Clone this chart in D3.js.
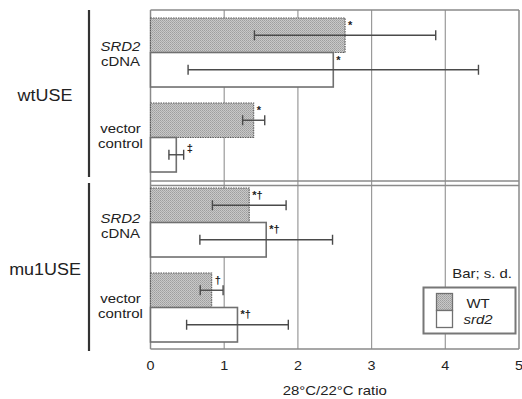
<!DOCTYPE html>
<html>
<head>
<meta charset="utf-8">
<script src="https://cdn.jsdelivr.net/npm/d3@7"></script>
<style>
  body { margin: 0; background: #fff; }
  text { font-family: "Liberation Sans", Arial, sans-serif; fill: #222; }
</style>
</head>
<body>
<div id="graph-area"></div>
<script>
// values (28C/22C ratio, mean and s.d.)
var groups = ["wtUSE", "mu1USE"];
var constructs = [["SRD2", "cDNA"], ["vector", "control"]];
var lines = ["WT", "srd2"];
var wtValues = [2.64, 1.40, 1.34, 0.83];
var wtErrors = [1.23, 0.15, 0.50, 0.155];
var srd2Values = [2.48, 0.35, 1.57, 1.18];
var srd2Errors = [1.97, 0.10, 0.90, 0.69];
var wtMarks = ["*", "*", "*\u2020", "\u2020"];
var srd2Marks = ["*", "\u2021", "*\u2020", "*\u2020"];
var xTicks = [0, 1, 2, 3, 4, 5];

var width = 522, height = 399,
    stretch = 1.15;

var svg = d3.select("#graph-area").append("svg")
    .attr("width", width)
    .attr("height", height);

// dotted halftone fill for WT
var pat = svg.append("defs").append("pattern")
    .attr("id", "dots")
    .attr("patternUnits", "userSpaceOnUse")
    .attr("width", 2).attr("height", 2);
pat.append("rect").attr("width", 2).attr("height", 2).attr("fill", "#c8c8c8");
pat.append("rect").attr("width", 1).attr("height", 1).attr("fill", "#9e9e9e");
pat.append("rect").attr("x", 1).attr("y", 1).attr("width", 1).attr("height", 1).attr("fill", "#aaaaaa");

var x = d3.scaleLinear().domain([0, 5]).range([150.5, 519]);

// one band per group x construct, then WT / srd2 inside it
var rows = [];
groups.forEach(function(g, gi) {
    constructs.forEach(function(c, ci) {
        rows.push({group: g, gi: gi, ci: ci, lines: c, idx: gi * 2 + ci});
    });
});

var y = d3.scaleBand().domain(rows.map(function(d) { return d.idx; }))
    .range([18, 342]).paddingInner(0.188).paddingOuter(0);
var yInner = d3.scaleBand().domain(lines).range([0, y.bandwidth()]);

function stretchedText(sel, tx, ty) {
    return sel.append("text")
        .attr("transform", "translate(" + tx + "," + ty + ") scale(" + stretch + ",1)");
}

// frame and grid
var frame = svg.append("g").attr("stroke", "#8a8a8a").attr("fill", "none");
xTicks.slice(1, 5).forEach(function(t) {
    frame.append("line")
        .attr("x1", x(t)).attr("x2", x(t))
        .attr("y1", 10).attr("y2", 349)
        .attr("stroke", "#9a9a9a").attr("stroke-width", 1.2);
});
[10, 181, 185.5, 349].forEach(function(yy) {
    frame.append("line")
        .attr("x1", x(0)).attr("x2", x(5))
        .attr("y1", yy).attr("y2", yy)
        .attr("stroke-width", 1.5);
});
frame.append("line").attr("x1", x(0)).attr("x2", x(0)).attr("y1", 10).attr("y2", 349).attr("stroke-width", 1.5);
frame.append("line").attr("x1", x(5)).attr("x2", x(5)).attr("y1", 10).attr("y2", 349).attr("stroke-width", 1.5);

// bars
var bars = [];
rows.forEach(function(r) {
    bars.push({row: r, line: "WT", value: wtValues[r.idx], err: wtErrors[r.idx], mark: wtMarks[r.idx]});
    bars.push({row: r, line: "srd2", value: srd2Values[r.idx], err: srd2Errors[r.idx], mark: srd2Marks[r.idx]});
});
bars.forEach(function(d) {
    d.top = y(d.row.idx) + yInner(d.line);
    d.mid = d.top + yInner.bandwidth() / 2;
});

svg.selectAll(".bar")
    .data(bars)
    .enter().append("rect")
    .attr("class", "bar")
    .attr("x", x(0))
    .attr("y", function(d) { return d.top; })
    .attr("width", function(d) { return x(d.value) - x(0); })
    .attr("height", yInner.bandwidth())
    .attr("fill", function(d) { return d.line == "WT" ? "url(#dots)" : "#fff"; })
    .attr("stroke", function(d) { return d.line == "WT" ? "#5a5a5a" : "#707070"; })
    .attr("stroke-width", function(d) { return d.line == "WT" ? 1.1 : 1.6; })
    .attr("stroke-dasharray", function(d) { return d.line == "WT" ? "1.5,1" : null; });

// error bars (s.d.)
var errs = svg.selectAll(".err")
    .data(bars)
    .enter().append("g")
    .attr("class", "err")
    .attr("stroke", "#4a4a4a")
    .attr("stroke-width", 1.4);
errs.append("line")
    .attr("x1", function(d) { return x(d.value - d.err); })
    .attr("x2", function(d) { return x(d.value + d.err); })
    .attr("y1", function(d) { return d.mid; })
    .attr("y2", function(d) { return d.mid; });
[-1, 1].forEach(function(s) {
    errs.append("line")
        .attr("x1", function(d) { return x(d.value + s * d.err); })
        .attr("x2", function(d) { return x(d.value + s * d.err); })
        .attr("y1", function(d) { return d.mid - 5; })
        .attr("y2", function(d) { return d.mid + 5; });
});

// significance marks
svg.selectAll(".mark")
    .data(bars)
    .enter().append("text")
    .attr("class", "mark")
    .attr("x", function(d) {
        // the double dagger sits past its short error bar
        return d.mark == "\u2021" ? x(d.value + d.err) + 3 : x(d.value) + 3;
    })
    .attr("y", function(d) { return d.top + (d.mark == "\u2021" ? 14 : 11); })
    .attr("fill", "#222")
    .style("font-size", "11px")
    .style("font-weight", "bold")
    .text(function(d) { return d.mark; });

// construct labels
rows.forEach(function(r) {
    var c = y(r.idx) + y.bandwidth() / 2;
    var off = r.ci == 0 ? (r.gi == 0 ? -2 : 0.5) : -4.5;
    stretchedText(svg, 120.5, c + off)
        .attr("text-anchor", "middle")
        .style("font-size", "13px")
        .style("font-style", r.ci == 0 ? "italic" : "normal")
        .text(r.lines[0]);
    stretchedText(svg, 120.5, c + off + 15)
        .attr("text-anchor", "middle")
        .style("font-size", "13px")
        .text(r.lines[1]);
});

// group labels and brackets
groups.forEach(function(g, gi) {
    var y0 = y(gi * 2), y1 = y(gi * 2 + 1) + y.bandwidth();
    svg.append("line")
        .attr("x1", 89).attr("x2", 89)
        .attr("y1", gi == 0 ? 10 : 183)
        .attr("y2", gi == 0 ? 177 : 351)
        .attr("stroke", "#333")
        .attr("stroke-width", 2.2);
    stretchedText(svg, 45, (y0 + y1) / 2 + (gi == 0 ? 6 : 10))
        .attr("text-anchor", "middle")
        .style("font-size", "15.6px")
        .text(g);
});

// x axis
svg.selectAll(".tick-label")
    .data(xTicks)
    .enter().append("text")
    .attr("class", "tick-label")
    .attr("transform", function(d) { return "translate(" + x(d) + ",370) scale(" + stretch + ",1)"; })
    .attr("text-anchor", "middle")
    .style("font-size", "12.5px")
    .text(function(d) { return d; });

stretchedText(svg, (x(0) + x(5)) / 2, 395)
    .attr("text-anchor", "middle")
    .style("font-size", "13px")
    .text("28\u00b0C/22\u00b0C ratio");

// legend
stretchedText(svg, 512, 278)
    .attr("text-anchor", "end")
    .style("font-size", "13px")
    .text("Bar; s. d.");

var legend = svg.append("g");
legend.append("rect")
    .attr("x", 423.5).attr("y", 287.5)
    .attr("width", 92).attr("height", 46)
    .attr("fill", "#fff")
    .attr("stroke", "#777")
    .attr("stroke-width", 2);
lines.forEach(function(l, i) {
    legend.append("rect")
        .attr("x", 436.5).attr("y", 293.5 + i * 17)
        .attr("width", 16).attr("height", 17)
        .attr("fill", l == "WT" ? "url(#dots)" : "#fff")
        .attr("stroke", "#707070")
        .attr("stroke-width", 1.3);
    stretchedText(legend, 478, 308 + i * 16)
        .attr("text-anchor", "middle")
        .style("font-size", "13px")
        .style("font-style", l == "WT" ? "normal" : "italic")
        .text(l);
});
</script>
</body>
</html>
